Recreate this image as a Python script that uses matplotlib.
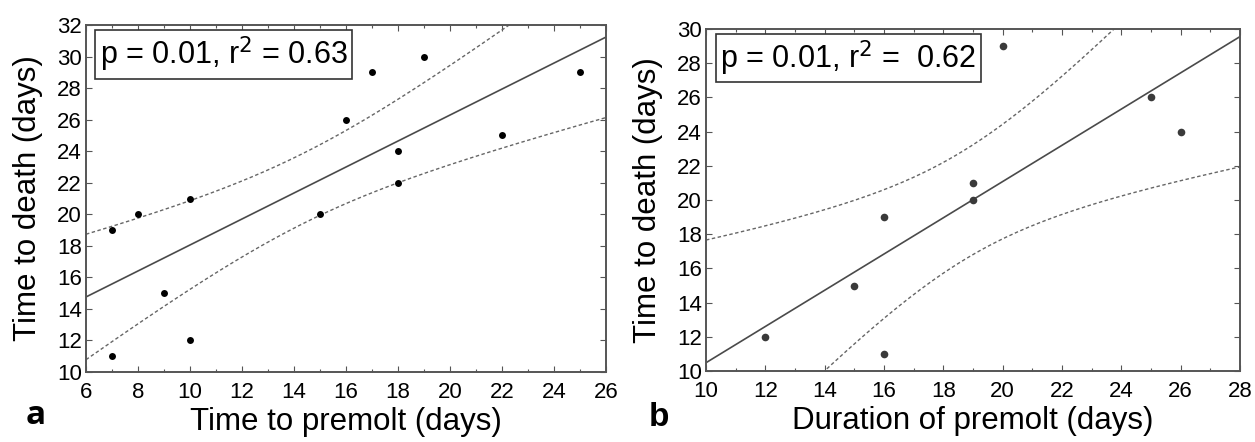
import numpy as np
import matplotlib.pyplot as plt

plt.rcParams['font.family'] = ['Liberation Sans', 'DejaVu Sans']

# panel a: time to premolt vs time to death
premolt_a = [7, 7, 8, 9, 10, 10, 15, 16, 17, 18, 18, 19, 22, 25]
death_a = [19, 11, 20, 15, 21, 12, 20, 26, 29, 24, 22, 30, 25, 29]

# panel b: duration of premolt vs time to death
premolt_b = [12, 15, 16, 16, 19, 19, 20, 25, 26]
death_b = [12, 15, 19, 11, 21, 20, 29, 26, 24]

# two-sided 95% t values (df = n - 2)
t_a = 2.179
t_b = 2.365

stats_a = "p = 0.01, r$^2$ = 0.63"
stats_b = "p = 0.01, r$^2$ =  0.62"

W, H = 1255, 442
fig = plt.figure(figsize=(W / 100, H / 100), dpi=100)


def px_axes(l, t, r, b):
    return fig.add_axes([l / W, 1 - b / H, (r - l) / W, (b - t) / H])


def fit_band(x, y, tval, xs):
    x = np.asarray(x, float)
    y = np.asarray(y, float)
    n = len(x)
    slope, icpt = np.polyfit(x, y, 1)
    resid = y - (slope * x + icpt)
    s = np.sqrt(np.sum(resid ** 2) / (n - 2))
    sxx = np.sum((x - x.mean()) ** 2)
    yhat = slope * xs + icpt
    half = tval * s * np.sqrt(1.0 / n + (xs - x.mean()) ** 2 / sxx)
    return yhat, yhat - half, yhat + half


def draw(ax, x, y, tval, xlim, ylim, dot_color, dot_size, stats, xlabel):
    xs = np.linspace(xlim[0], xlim[1], 200)
    yhat, lo, hi = fit_band(x, y, tval, xs)
    ax.plot(xs, yhat, color='#4a4a4a', lw=1.2)
    ax.plot(xs, lo, color='#666666', lw=1.0, dashes=(2.5, 1.8))
    ax.plot(xs, hi, color='#666666', lw=1.0, dashes=(2.5, 1.8))
    ax.plot(x, y, 'o', color=dot_color, ms=dot_size, mec='none')
    ax.set_xlim(*xlim)
    ax.set_ylim(*ylim)
    ax.set_xticks(np.arange(xlim[0], xlim[1] + 1, 2))
    ax.set_yticks(np.arange(ylim[0], ylim[1] + 1, 2))
    ax.set_xticks(np.arange(xlim[0], xlim[1] + 1, 1), minor=True)
    ax.tick_params(which='both', direction='in', top=True, right=True,
                   color='#555555', width=0.8, labelsize=16)
    ax.tick_params(which='major', length=4)
    ax.tick_params(which='minor', length=2.5)
    ax.tick_params(axis='x', pad=7)
    ax.tick_params(axis='y', pad=3)
    for sp in ax.spines.values():
        sp.set_color('#555555')
        sp.set_linewidth(1.4)
    ax.set_xlabel(xlabel, fontsize=22.5, labelpad=3)
    ax.set_ylabel("Time to death (days)", fontsize=22.5, labelpad=10)
    ax.text(0.027, 0.915, stats, transform=ax.transAxes, fontsize=22,
            va='center', ha='left',
            bbox=dict(boxstyle='square,pad=0.15', fc='white', ec='#333333', lw=1.2))


ax_a = px_axes(86, 25, 606, 372)
draw(ax_a, premolt_a, death_a, t_a, (6, 26), (10, 32), 'black', 5,
     stats_a, "Time to premolt (days)")

ax_b = px_axes(706, 29, 1240, 371)
draw(ax_b, premolt_b, death_b, t_b, (10, 28), (10, 30), '#3a3a3a', 5.5,
     stats_b, "Duration of premolt (days)")

fig.text(36 / W, 1 - 416 / H, "a", fontsize=24, fontweight='bold',
         family=['Open Sans', 'DejaVu Sans'], ha='center', va='center')
fig.text(659 / W, 1 - 418 / H, "b", fontsize=24, fontweight='bold',
         ha='center', va='center')

fig.savefig("out.png", dpi=100)
